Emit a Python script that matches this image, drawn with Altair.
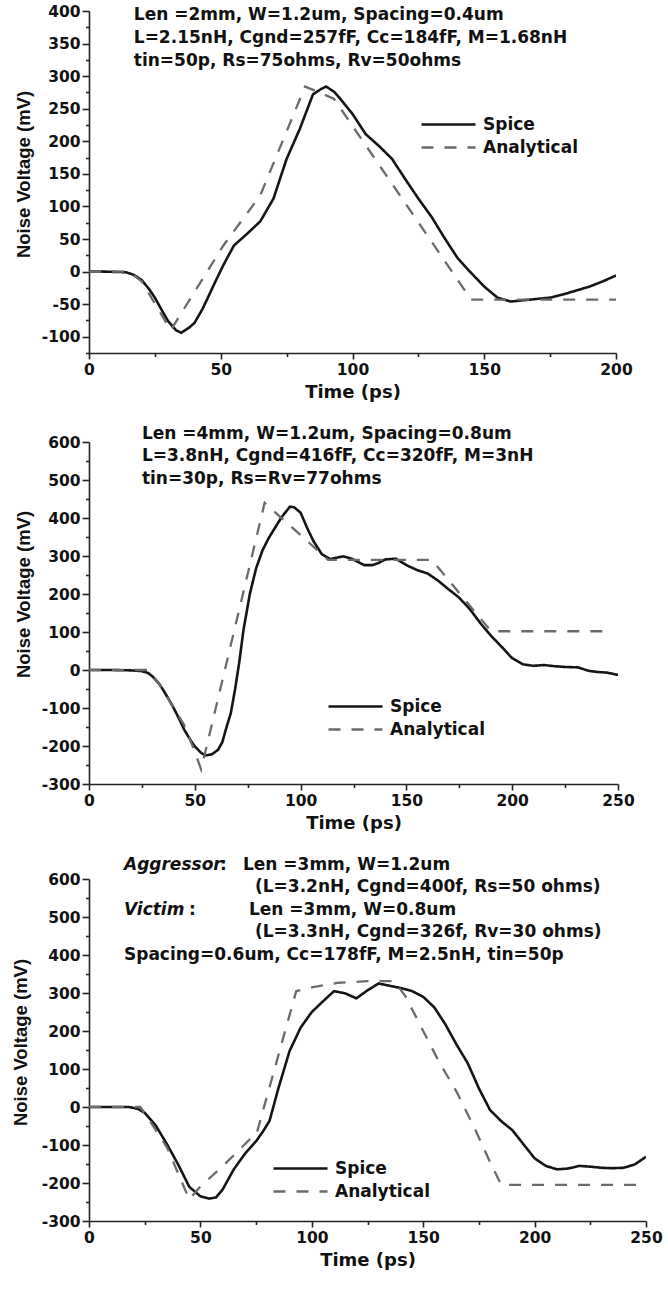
import altair as alt
import pandas as pd

FONT = "DejaVu Sans"
SERIES = ["Spice", "Analytical"]

# ---------------- Panel 1 ----------------
p1_spice_t = [0, 5, 10, 14, 17, 20, 23, 25, 28, 30, 33, 35, 38, 40, 43, 45, 48, 51, 55, 60, 65, 70, 75, 80, 85, 88, 90, 93, 95, 100, 105, 110, 115, 120, 125, 130, 135, 140, 145, 150, 155, 160, 165, 170, 175, 180, 185, 190, 195, 200]
p1_spice_v = [0, 0, -0.5, -1, -5, -13, -28, -40, -62, -76, -90, -94, -86, -79, -58, -41, -15, 10, 40, 58, 77, 112, 173, 219, 272, 280, 284, 276, 267, 242, 211, 193, 173, 142, 112, 84, 51, 20, -2, -23, -40, -46, -44, -42, -40, -35, -29, -23, -15, -6]
p1_anal_t = [0, 15, 20, 31, 51, 65, 82, 88, 93, 145, 200]
p1_anal_v = [0, 0, -15, -90, 40, 117, 284, 274, 265, -43, -43]
p1_text = ["Len =2mm, W=1.2um, Spacing=0.4um",
           "L=2.15nH, Cgnd=257fF, Cc=184fF, M=1.68nH",
           "tin=50p, Rs=75ohms, Rv=50ohms"]
p1_text_x = [17, 17, 17]
p1_text_y = [394, 359, 323]

# ---------------- Panel 2 ----------------
p2_spice_t = [0, 10, 20, 25, 28, 30, 33, 35, 38, 40, 43, 45, 48, 50, 53, 55, 58, 61, 63, 65, 67, 69, 71, 73, 76, 79, 82, 85, 88, 91, 95, 97, 100, 103, 106, 110, 114, 120, 124, 127, 130, 134, 137, 140, 145, 150, 155, 160, 165, 170, 175, 180, 185, 190, 195, 200, 205, 210, 215, 220, 225, 231, 236, 240, 245, 250]
p2_spice_v = [0, 0, -1, -3, -8, -17, -35, -52, -80, -100, -133, -157, -185, -201, -218, -225, -222, -210, -190, -150, -114, -52, 20, 105, 200, 268, 315, 348, 375, 402, 430, 428, 414, 375, 340, 305, 292, 299, 293, 285, 276, 276, 282, 291, 293, 276, 263, 254, 235, 212, 190, 160, 123, 90, 61, 31, 15, 11, 13, 10, 8, 7, -2, -5, -7, -13]
p2_anal_t = [0, 28, 33, 45, 50, 53, 83, 113, 162, 190, 245]
p2_anal_v = [0, 0, -35, -145, -215, -262, 440, 290, 290, 102, 102]
p2_text = ["Len =4mm, W=1.2um, Spacing=0.8um",
           "L=3.8nH, Cgnd=416fF, Cc=320fF, M=3nH",
           "tin=30p, Rs=Rv=77ohms"]
p2_text_x = [25, 25, 25]
p2_text_y = [622, 562, 503]

# ---------------- Panel 3 ----------------
p3_spice_t = [0, 10, 18, 22, 25, 30, 35, 40, 45, 50, 54, 57, 60, 65, 70, 75, 78, 81, 85, 90, 95, 100, 105, 110, 115, 120, 125, 130, 135, 140, 145, 150, 155, 160, 165, 170, 175, 180, 185, 190, 195, 200, 205, 210, 215, 220, 225, 230, 235, 240, 245, 250]
p3_spice_v = [0, 0, 0, -5, -15, -49, -98, -151, -210, -235, -241, -238, -217, -164, -123, -90, -65, -37, 49, 147, 209, 250, 278, 305, 299, 286, 307, 325, 319, 313, 305, 290, 262, 217, 164, 115, 49, -8, -37, -61, -98, -135, -155, -164, -162, -155, -157, -160, -161, -160, -151, -131]
p3_anal_t = [0, 23, 25, 35, 45, 50, 60, 72, 75, 93, 100, 112, 125, 137, 142, 150, 157, 165, 173, 180, 185, 250]
p3_anal_v = [0, 0, -16, -106, -243, -209, -156, -86, -75, 305, 315, 327, 331, 331, 292, 200, 120, 40, -55, -145, -205, -205]
p3_text = [":", "Len =3mm, W=1.2um",
           "(L=3.2nH, Cgnd=400f, Rs=50 ohms)",
           ":",
           "Len =3mm, W=0.8um",
           "(L=3.3nH, Cgnd=326f, Rv=30 ohms)",
           "Spacing=0.6um, Cc=178fF, M=2.5nH, tin=50p"]
p3_text_x = [58.8, 69.1, 74.5, 44.9, 71.8, 74.5, 15.7]
p3_text_y = [638, 638, 578, 519, 519, 460, 400]
p3_ital = ["Aggressor", "Victim"]
p3_ital_x = [15.7, 15.7]
p3_ital_y = [638, 519]

LABEL_EXPR = "datum.value < 0 ? '-' + abs(datum.value) : '' + datum.value"


def panel(st, sv, at, av, xmax, ymin, ymax, ymaj, ymin_step, width, height,
          lx, ly, title_y, title_pad, tx, ty, tt, ix=None, iy=None, it=None):
    df = pd.DataFrame({
        "t": st + at,
        "v": sv + av,
        "series": ["Spice"] * len(st) + ["Analytical"] * len(at),
    })
    xs = alt.Scale(domain=[0, xmax], nice=False, zero=False)
    ys = alt.Scale(domain=[ymin, ymax], nice=False, zero=False)
    xmaj_vals = list(range(0, xmax + 1, 50))
    xmin_vals = list(range(25, xmax, 50))
    start = ymin if ymin % ymaj == 0 else ymin + (-ymin % ymaj)
    ymaj_vals = list(range(start, ymax + 1, ymaj))
    ymin_vals = [v for v in range(ymin, ymax + 1, ymin_step) if v % ymaj != 0]

    leg = alt.Legend(title=None, orient="none", legendX=lx, legendY=ly,
                     symbolType="M-1,0H4.4", symbolSize=400, symbolStrokeWidth=2.4,
                     symbolFillColor="transparent",
                     labelFont=FONT, labelFontSize=17, labelFontWeight="bold",
                     labelColor="#111111", labelOffset=40, rowPadding=3, padding=0,
                     direction="vertical")

    lines = alt.Chart(df).mark_line(clip=True).encode(
        x=alt.X("t:Q", scale=xs, axis=alt.Axis(values=xmaj_vals, title="Time (ps)",
                                               orient="bottom", tickSize=6,
                                               labelFlush=False, labelOverlap=False,
                                               labelPadding=3, titlePadding=6)),
        y=alt.Y("v:Q", scale=ys, axis=alt.Axis(values=ymaj_vals, title="Noise Voltage (mV)",
                                               orient="left", tickSize=7,
                                               labelExpr=LABEL_EXPR,
                                               labelOverlap=False, labelPadding=2,
                                               titlePadding=title_pad, titleY=title_y,
                                               titleFont="Liberation Sans",
                                               titleFontSize=18.5)),
        color=alt.Color("series:N", scale=alt.Scale(domain=SERIES, range=["#151515", "#6b6b6b"]),
                        legend=leg),
        strokeDash=alt.StrokeDash("series:N", scale=alt.Scale(domain=SERIES, range=[[1, 0], [12, 11]]),
                                  legend=leg),
        strokeWidth=alt.StrokeWidth("series:N", scale=alt.Scale(domain=SERIES, range=[2.6, 2.3]),
                                    legend=None),
    )

    tdf = pd.DataFrame({"x": tx, "y": ty, "txt": tt})
    texts = alt.Chart(tdf).mark_text(align="left", baseline="middle", font=FONT,
                                     fontSize=17, fontWeight="bold", color="#111111",
                                     clip=False).encode(
        x=alt.X("x:Q", scale=xs, axis=alt.Axis(values=xmin_vals, title=None, labels=False,
                                               domain=False, tickSize=3.5, orient="bottom")),
        y=alt.Y("y:Q", scale=ys, axis=alt.Axis(values=ymin_vals, title=None, labels=False,
                                               domain=False, tickSize=3.5, orient="left")),
        text="txt:N",
    )
    layers = [lines, texts]
    if it is not None:
        idf = pd.DataFrame({"x": ix, "y": iy, "txt": it})
        ital = alt.Chart(idf).mark_text(align="left", baseline="middle", font=FONT,
                                        fontSize=17, fontWeight="bold", fontStyle="italic",
                                        color="#111111", clip=False).encode(
            x=alt.X("x:Q", scale=xs, axis=None),
            y=alt.Y("y:Q", scale=ys, axis=None),
            text="txt:N",
        )
        layers.append(ital)
    return alt.layer(*layers).resolve_axis(x="independent", y="independent").properties(
        width=width, height=height)


c1 = panel(p1_spice_t, p1_spice_v, p1_anal_t, p1_anal_v, 200, -125, 400, 50, 25, 527, 342,
           331, 102, 163, 8, p1_text_x, p1_text_y, p1_text)
c2 = panel(p2_spice_t, p2_spice_v, p2_anal_t, p2_anal_v, 250, -300, 600, 100, 50, 529, 342,
           238, 253, 152, 8, p2_text_x, p2_text_y, p2_text)
c3 = panel(p3_spice_t, p3_spice_v, p3_anal_t, p3_anal_v, 250, -300, 600, 100, 50, 557, 342,
           183, 278, 163, 11, p3_text_x, p3_text_y, p3_text, p3_ital_x, p3_ital_y, p3_ital)

chart = alt.vconcat(c1, c2, c3, spacing=22).resolve_scale(
    color="independent", strokeDash="independent", strokeWidth="independent"
).resolve_legend(
    color="independent", strokeDash="independent"
).configure_axis(
    grid=False, domainColor="#222222", domainWidth=1.6, tickColor="#222222", tickWidth=1.6,
    labelFont=FONT, labelFontSize=15.5, labelFontWeight="bold", labelColor="#111111",
    titleFont=FONT, titleFontSize=18, titleFontWeight="bold", titleColor="#111111",
).configure_view(stroke=None).properties(
    padding={"left": 11, "top": 4, "right": 4, "bottom": 4}, background="white"
)

chart.save("out.html", embed_options={"renderer": "svg", "actions": False})
